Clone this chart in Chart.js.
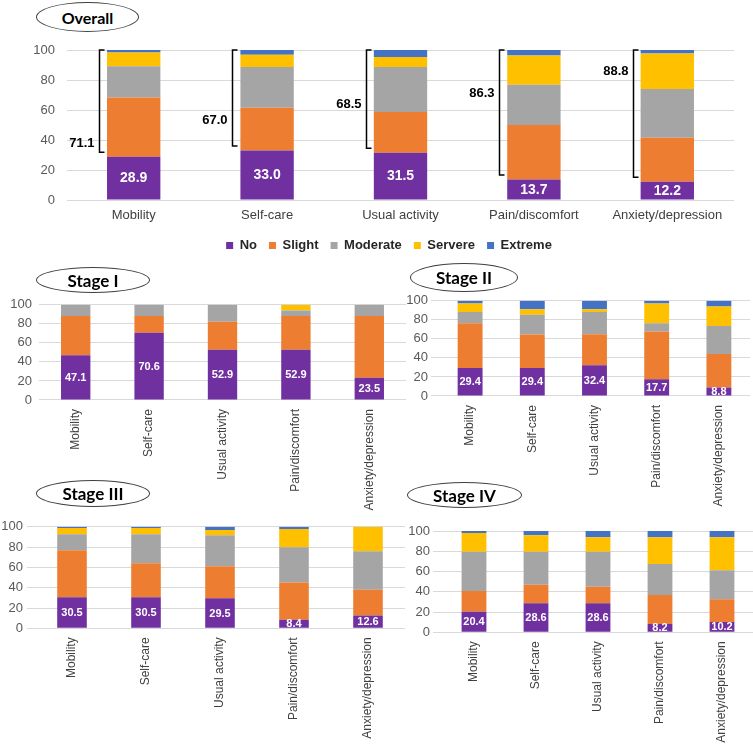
<!DOCTYPE html>
<html>
<head>
<meta charset="utf-8">
<script src="https://cdn.jsdelivr.net/npm/chart.js@4.4.1/dist/chart.umd.min.js"></script>
<style>
  html, body { margin: 0; padding: 0; background: #fff; }
  body { width: 753px; height: 749px; position: relative; overflow: hidden; }
  canvas { position: absolute; }
  .tag {
    position: absolute; box-sizing: border-box; z-index: 2;
    border: 1px solid #404040; border-radius: 50%; background: #fff;
    display: flex; align-items: center; justify-content: center;
    font-family: Lato, "Liberation Sans", sans-serif; font-weight: 700; font-size: 17px; color: #000;
  }
</style>
</head>
<body>

<div class="tag" style="left:36px;top:2px;width:103px;height:30px;font-size:16px;">Overall</div>
<div class="tag" style="left:36px;top:267px;width:114px;height:26px;">Stage I</div>
<div class="tag" style="left:410px;top:263px;width:108px;height:29px;">Stage II</div>
<div class="tag" style="left:36px;top:480px;width:114px;height:27px;">Stage III</div>
<div class="tag" style="left:407px;top:482px;width:115px;height:26px;">Stage IV</div>

<canvas id="overall" width="753" height="262" style="left:0;top:0"></canvas>
<canvas id="stage1" width="410" height="230" style="left:0;top:290px"></canvas>
<canvas id="stage2" width="353" height="230" style="left:400px;top:290px"></canvas>
<canvas id="stage3" width="410" height="234" style="left:0;top:515px"></canvas>
<canvas id="stage4" width="353" height="229" style="left:400px;top:520px"></canvas>

<script>
// ============================================================
// DATA
// ============================================================

const categories = ["Mobility", "Self-care", "Usual activity", "Pain/discomfort", "Anxiety/depression"];
const levels = ["No", "Slight", "Moderate", "Servere", "Extreme"];

// overall (%)
const overallNo       = [28.9, 33.0, 31.5, 13.7, 12.2];
const overallSlight   = [39.5, 28.5, 27.2, 36.3, 29.3];
const overallModerate = [20.7, 27.2, 30.0, 26.9, 32.5];
const overallSevere   = [9.3, 8.2, 6.6, 19.5, 23.7];
const overallExtreme  = [1.6, 3.1, 4.7, 3.6, 2.3];

// share with any problem, shown beside the brackets
const overallImpaired = [71.1, 67.0, 68.5, 86.3, 88.8];

// stage I
const s1No       = [47.1, 70.6, 52.9, 52.9, 23.5];
const s1Slight   = [41.1, 17.6, 29.4, 35.3, 64.7];
const s1Moderate = [11.8, 11.8, 17.7, 5.9, 11.8];
const s1Severe   = [0, 0, 0, 5.9, 0];
const s1Extreme  = [0, 0, 0, 0, 0];

// stage II
const s2No       = [29.4, 29.4, 32.4, 17.7, 8.8];
const s2Slight   = [47.1, 35.3, 32.4, 50.0, 35.3];
const s2Moderate = [11.8, 20.6, 23.5, 8.8, 29.4];
const s2Severe   = [8.8, 5.9, 2.9, 20.6, 20.6];
const s2Extreme  = [2.9, 8.8, 8.8, 2.9, 5.9];

// stage III
const s3No       = [30.5, 30.5, 29.5, 8.4, 12.6];
const s3Slight   = [46.3, 33.7, 31.6, 36.8, 25.3];
const s3Moderate = [15.8, 28.4, 30.5, 34.7, 37.9];
const s3Severe   = [6.3, 6.3, 5.3, 17.9, 24.2];
const s3Extreme  = [1.1, 1.1, 3.1, 2.2, 0];

// stage IV
const s4No       = [20.4, 28.6, 28.6, 8.2, 10.2];
const s4Slight   = [20.4, 18.4, 16.3, 28.6, 22.4];
const s4Moderate = [38.8, 32.6, 34.7, 30.6, 28.6];
const s4Severe   = [18.4, 16.3, 14.3, 26.5, 32.7];
const s4Extreme  = [2.0, 4.1, 6.1, 6.1, 6.1];


// ============================================================
// STYLE
// ============================================================

const levelColors = ["#7030A0", "#ED7D31", "#A5A5A5", "#FFC000", "#4472C4"];
const bracketLabelAt = [37.5, 53, 64, 71, 85.5];   // y (in %) of bracket labels

Chart.defaults.font.family = '"Liberation Sans", Arial, sans-serif';
Chart.defaults.color = "#595959";


// ============================================================
// PLUGINS
// ============================================================

// value of the "No" segment, white, in the middle of the segment
const barValues = {
  id: "barValues",
  afterDatasetsDraw(chart, args, opts) {
    const ctx = chart.ctx;
    const meta = chart.getDatasetMeta(0);
    const vals = chart.data.datasets[0].data;
    ctx.save();
    ctx.fillStyle = "#fff";
    ctx.font = `bold ${opts.size}px "Liberation Sans", Arial, sans-serif`;
    ctx.textAlign = "center";
    ctx.textBaseline = "middle";
    meta.data.forEach((bar, i) => {
      ctx.fillText(vals[i].toFixed(1), bar.x, (bar.y + bar.base) / 2 + 0.5);
    });
    ctx.restore();
  }
};

// brackets left of the overall bars
const brackets = {
  id: "brackets",
  afterDatasetsDraw(chart) {
    const ctx = chart.ctx;
    const y = chart.scales.y;
    const meta = chart.getDatasetMeta(0);
    ctx.save();
    ctx.strokeStyle = "#000";
    ctx.lineWidth = 1.5;
    ctx.fillStyle = "#000";
    ctx.font = 'bold 13px "Liberation Sans", Arial, sans-serif';
    ctx.textAlign = "right";
    ctx.textBaseline = "middle";
    meta.data.forEach((bar, i) => {
      const bx = Math.round(bar.x - bar.width / 2 - 8) + 0.5;
      const top = y.getPixelForValue(100);
      const bot = y.getPixelForValue(overallNo[i] + 3);
      ctx.beginPath();
      ctx.moveTo(bx + 5, top);
      ctx.lineTo(bx, top);
      ctx.lineTo(bx, bot);
      ctx.lineTo(bx + 5, bot);
      ctx.stroke();
      ctx.fillText(overallImpaired[i].toFixed(1), bx - 5, y.getPixelForValue(bracketLabelAt[i]));
    });
    ctx.restore();
  }
};


// ============================================================
// CHART BUILDER
// ============================================================

function stackChart(id, series, cfg) {
  const datasets = levels.map((name, k) => ({
    label: name,
    data: series[k],
    backgroundColor: levelColors[k],
    borderWidth: 0,
    barPercentage: 0.4,
    categoryPercentage: 1
  }));

  const extra = [barValues];
  if (cfg.brackets) extra.push(brackets);

  const scales = {
    x: {
      stacked: true,
      grid: { display: false, drawTicks: false },
      border: { display: false },
      ticks: {
        color: "#404040",
        font: { size: cfg.catSize },
        padding: cfg.catPad,
        minRotation: cfg.rotate ? 90 : 0,
        maxRotation: cfg.rotate ? 90 : 0,
        autoSkip: false
      },
      afterFit: (s) => { s.height = cfg.xHeight; }
    },
    y: {
      stacked: true,
      min: 0,
      max: 100,
      grid: { color: "#D9D9D9", drawTicks: cfg.tickLen > 0, tickLength: cfg.tickLen },
      border: { display: false },
      ticks: { stepSize: 20, color: "#595959", font: { size: cfg.tickSize }, padding: cfg.tickPad },
      afterFit: (s) => { s.width = cfg.yWidth; }
    }
  };

  // empty spacer on the right, so the full-width legend sits where the original has it
  if (cfg.rightGap) {
    scales.gap = {
      type: "linear",
      position: "right",
      grid: { display: false },
      border: { display: false },
      ticks: { display: false },
      afterFit: (s) => { s.width = cfg.rightGap; }
    };
  }

  return new Chart(document.getElementById(id), {
    type: "bar",
    data: { labels: categories, datasets },
    options: {
      responsive: false,
      animation: false,
      layout: { padding: cfg.padding },
      plugins: {
        legend: cfg.legend || { display: false },
        tooltip: { enabled: false },
        barValues: { size: cfg.valueSize }
      },
      scales
    },
    plugins: extra
  });
}


// ============================================================
// DRAW
// ============================================================

stackChart("overall",
  [overallNo, overallSlight, overallModerate, overallSevere, overallExtreme],
  {
    padding: { top: 50, left: 28, right: 3, bottom: 0 },
    yWidth: 39, rightGap: 16, xHeight: 27, tickLen: 0, tickPad: 12, tickSize: 13,
    catSize: 13, catPad: 8, rotate: false, valueSize: 14, brackets: true,
    legend: {
      display: true,
      position: "bottom",
      labels: {
        boxWidth: 7, boxHeight: 7, padding: 12,
        color: "#262626",
        font: { size: 13, weight: "bold" }
      }
    }
  });

stackChart("stage1",
  [s1No, s1Slight, s1Moderate, s1Severe, s1Extreme],
  {
    padding: { top: 10, left: 0, right: 4, bottom: 0 },
    yWidth: 39, xHeight: 120, tickLen: 0, tickPad: 7, tickSize: 13,
    catSize: 12, catPad: 9, rotate: true, valueSize: 11
  });

stackChart("stage2",
  [s2No, s2Slight, s2Moderate, s2Severe, s2Extreme],
  {
    padding: { top: 10, left: 0, right: 3, bottom: 0 },
    yWidth: 39, xHeight: 124, tickLen: 8, tickPad: 3, tickSize: 13,
    catSize: 12, catPad: 9, rotate: true, valueSize: 11
  });

stackChart("stage3",
  [s3No, s3Slight, s3Moderate, s3Severe, s3Extreme],
  {
    padding: { top: 11.7, left: 0, right: 5, bottom: 0 },
    yWidth: 35, xHeight: 120.7, tickLen: 8, tickPad: 4, tickSize: 13,
    catSize: 12, catPad: 9, rotate: true, valueSize: 11
  });

stackChart("stage4",
  [s4No, s4Slight, s4Moderate, s4Severe, s4Extreme],
  {
    padding: { top: 11, left: 0, right: 0, bottom: 0 },
    yWidth: 43, xHeight: 116.7, tickLen: 10, tickPad: 3, tickSize: 13,
    catSize: 12, catPad: 9, rotate: true, valueSize: 11
  });
</script>
</body>
</html>
